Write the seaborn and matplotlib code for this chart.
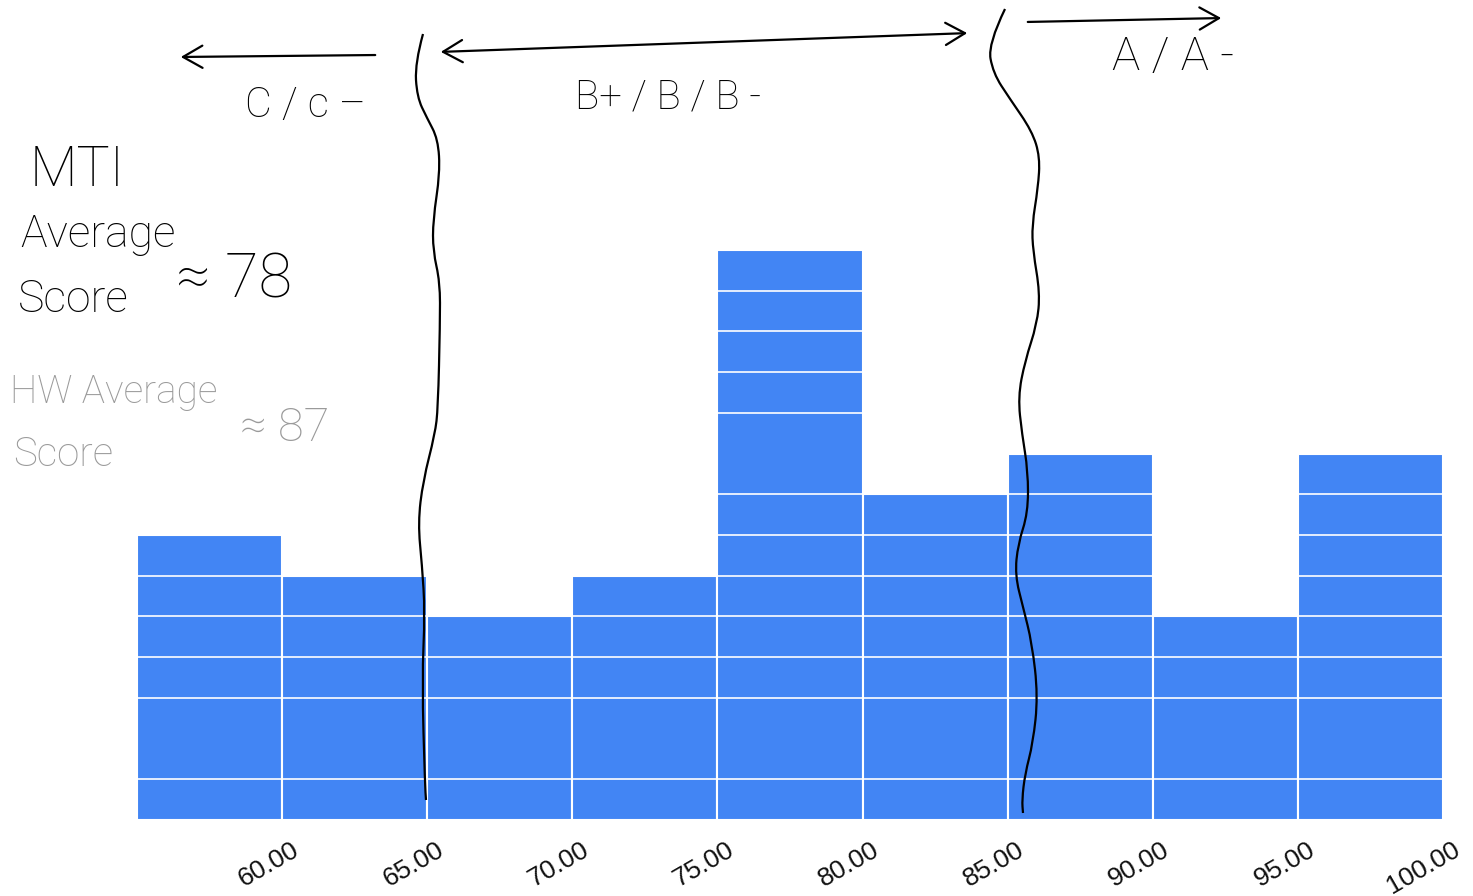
import matplotlib.pyplot as plt
import matplotlib.transforms as mtransforms
from matplotlib.patches import FancyArrowPatch, PathPatch
from matplotlib.path import Path
import seaborn as sns

# histogram data
bin_edges = [55, 60, 65, 70, 75, 80, 85, 90, 95, 100]
student_counts = [7, 6, 5, 6, 14, 8, 9, 5, 9]
divider_levels = [1, 3, 4, 5, 6, 7, 8, 10, 11, 12, 13]
tick_values = [60, 65, 70, 75, 80, 85, 90, 95, 100]

# hand-drawn grade cut-offs, in figure pixels (y measured from the top)
cutoff_c = [(423, 34), (415, 63), (417, 97), (427, 118), (438, 139), (440, 173),
            (433, 220), (433, 251), (440, 282), (440, 324), (438, 408), (435, 434),
            (423, 481), (418, 523), (422, 565), (425, 612), (422, 680), (425, 785),
            (426, 800)]
cutoff_a = [(1005, 9), (988, 44), (993, 73), (1010, 99), (1032, 131), (1040, 157),
            (1038, 188), (1032, 225), (1033, 251), (1040, 293), (1037, 324),
            (1025, 361), (1018, 397), (1022, 434), (1028, 471), (1028, 513),
            (1018, 544), (1015, 575), (1023, 607), (1032, 643), (1038, 696),
            (1033, 743), (1025, 774), (1022, 800), (1023, 813)]

W, H = 1473, 896
BLUE = "#4285F4"


def fpos(x, y):
    return (x / W, 1 - y / H)


def smooth_path(points):
    pts = [fpos(x, y) for x, y in points]
    verts, codes = [pts[0]], [Path.MOVETO]
    for i in range(1, len(pts) - 1):
        mid = ((pts[i][0] + pts[i + 1][0]) / 2, (pts[i][1] + pts[i + 1][1]) / 2)
        verts += [pts[i], mid]
        codes += [Path.CURVE3, Path.CURVE3]
    verts.append(pts[-1])
    codes.append(Path.LINETO)
    return Path(verts, codes)


sns.set_theme(style="white")
plt.rcParams["font.family"] = ["Liberation Sans", "DejaVu Sans"]

fig = plt.figure(figsize=(W / 100, H / 100), dpi=100)
ax = fig.add_axes([137 / W, 76 / H, 1306 / W, 820 / H])

centers = [(a + b) / 2 for a, b in zip(bin_edges[:-1], bin_edges[1:])]
sns.histplot(x=centers, weights=student_counts, bins=bin_edges, color=BLUE,
             alpha=1, edgecolor="white", linewidth=1.5, ax=ax)

ax.set_xlim(55, 100)
ax.set_ylim(0, 820 / 40.71)
ax.set_yticks(divider_levels)
ax.set_yticklabels([])
ax.yaxis.grid(True, color="white", linewidth=1.2)
ax.set_axisbelow(False)
ax.set_xlabel("")
ax.set_ylabel("")
sns.despine(ax=ax, left=True, bottom=True)
ax.tick_params(axis="both", length=0)
ax.tick_params(axis="x", pad=20)
ax.set_xticks(tick_values, [f"{v:.2f}" for v in tick_values], rotation=30,
              ha="right", va="center", rotation_mode="anchor", fontsize=19,
              color="#111111")
shift = mtransforms.ScaledTranslation(15 / 100, 0, fig.dpi_scale_trans)
for lab in ax.get_xticklabels():
    lab.set_transform(lab.get_transform() + shift)

# sketch annotations
for pts in (cutoff_c, cutoff_a):
    fig.add_artist(PathPatch(smooth_path(pts), fill=False, edgecolor="black",
                             linewidth=1.6, transform=fig.transFigure))

arrow_kw = dict(transform=fig.transFigure, color="black", linewidth=1.6,
                mutation_scale=20)
fig.add_artist(FancyArrowPatch(fpos(378, 55), fpos(178, 57),
                               arrowstyle="->,head_length=0.7,head_width=0.4", **arrow_kw))
fig.add_artist(FancyArrowPatch(fpos(438, 52), fpos(970, 33),
                               arrowstyle="<->,head_length=0.7,head_width=0.4", **arrow_kw))
fig.add_artist(FancyArrowPatch(fpos(1025, 22), fpos(1224, 18),
                               arrowstyle="->,head_length=0.7,head_width=0.4", **arrow_kw))

hand = ["Roboto", "DejaVu Sans"]
notes = [
    ("C / c \u2013", 245, 105, 30, "black"),
    ("B+ / B / B -", 575, 97, 29, "black"),
    ("A / A -", 1112, 57, 34, "black"),
    ("MTI", 30, 170, 40, "black"),
    ("Average", 20, 235, 32, "black"),
    ("Score", 18, 300, 32, "black"),
    ("\u2248 78", 176, 280, 44, "black"),
    ("HW Average", 10, 392, 28, "#9a9a9a"),
    ("Score", 13, 455, 29, "#9a9a9a"),
    ("\u2248 87", 240, 428, 34, "#9a9a9a"),
]
for txt, x, y, size, col in notes:
    fig.text(*fpos(x, y), txt, fontsize=size, color=col, ha="left", va="center",
             family=hand, fontweight="light")

fig.savefig("out.png", dpi=100)
plt.close(fig)
